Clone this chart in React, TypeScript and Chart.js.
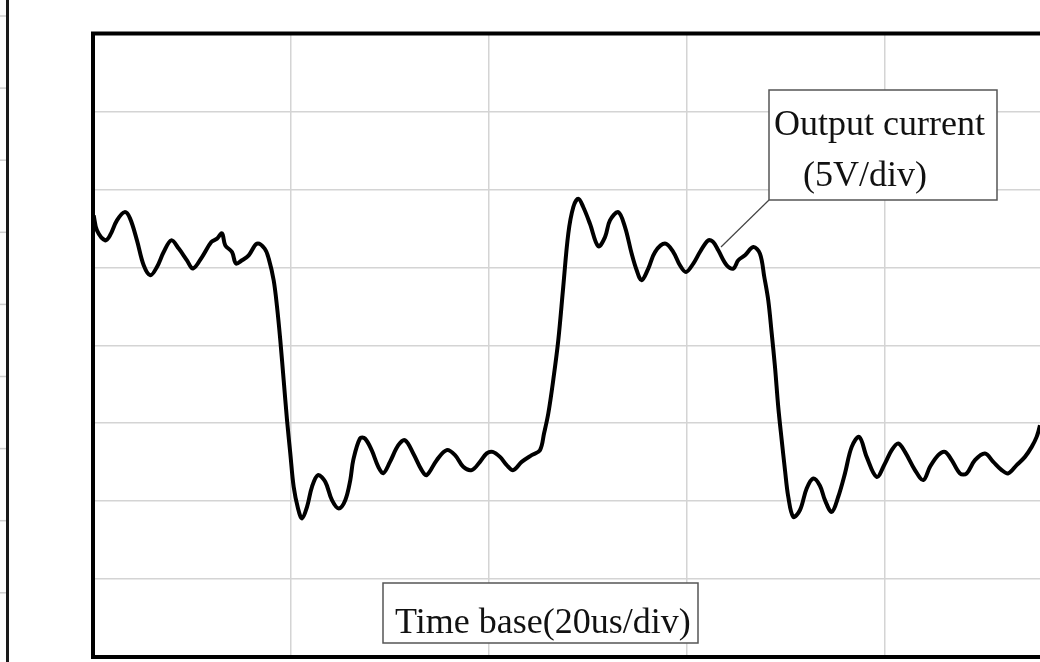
import React, { useEffect, useRef } from "react";
import { Chart, registerables } from "chart.js";

Chart.register(...registerables);

// Time in microseconds (20 us/div), output in volts (5 V/div)
const timeUs = [
  0.07, 0.4, 1.24, 1.72, 2.42, 3.2, 3.74, 4.44, 5.12, 5.79, 6.46, 7.14, 7.91, 8.66, 9.49, 10.1, 11.01, 11.95, 12.53,
  13.03, 13.36, 14.04, 14.44, 15.05, 15.73, 16.57, 17.34, 17.75, 18.25, 18.59, 18.92, 19.26, 19.6, 19.93, 20.27,
  20.71, 21.11, 21.62, 22.12, 22.73, 23.46, 24.14, 24.82, 25.48, 25.99, 26.29, 26.97, 27.47, 28.15, 28.82, 29.32,
  30.0, 30.84, 31.52, 32.35, 33.2, 33.71, 34.72, 35.73, 36.57, 37.4, 38.25, 39.09, 39.77, 40.37, 41.11, 41.79,
  42.45, 43.3, 44.31, 45.15, 45.56, 45.99, 46.49, 47.0, 47.5, 48.01, 48.52, 49.02, 49.52, 50.2, 51.04, 51.72,
  52.22, 53.06, 53.74, 54.41, 54.92, 55.42, 56.09, 56.77, 57.78, 58.62, 59.29, 59.9, 60.64, 61.31, 62.15, 62.66,
  63.16, 64.01, 64.68, 65.18, 65.86, 66.7, 67.37, 67.81, 68.21, 68.56, 68.89, 69.22, 69.57, 69.9, 70.23, 70.74,
  71.41, 72.09, 72.76, 73.43, 73.94, 74.62, 75.28, 75.96, 76.64, 77.4, 78.15, 79.16, 80.0, 80.68, 81.34, 82.02,
  83.03, 83.87, 84.55, 85.38, 86.06, 86.74, 87.58, 88.25, 89.09, 90.1, 90.94, 91.79, 92.45, 93.3, 94.14, 94.82,
  95.32, 95.66, 96.16,
];

const currentV = [
  8.33, 7.37, 6.73, 7.05, 8.01, 8.54, 8.14, 6.73, 5.13, 4.49, 5.02, 5.98, 6.73, 6.2, 5.45, 4.92, 5.66, 6.62, 6.84,
  7.18, 6.41, 5.98, 5.24, 5.45, 5.77, 6.52, 6.2, 5.56, 4.17, 2.46, 0.32, -2.24, -4.81, -6.94, -9.08,
  -10.47, -11.11, -10.37, -9.08, -8.33, -8.76, -9.94, -10.47, -9.94, -8.65, -7.37, -5.98, -5.98, -6.73, -7.8, -8.21,
  -7.48, -6.41, -6.09, -6.94, -8.01, -8.33, -7.37, -6.73, -7.05, -7.8, -8.01, -7.48, -6.94, -6.84, -7.16, -7.69,
  -8.01, -7.48, -7.05, -6.73, -5.66, -4.38, -2.24, 0.32, 3.74, 7.16, 8.87, 9.4, 8.87, 7.8, 6.35, 6.94,
  8.01, 8.54, 7.58, 5.88, 4.81, 4.17, 4.92, 5.98, 6.52, 5.98, 5.13, 4.7, 5.24, 5.98, 6.73, 6.62,
  6.09, 5.13, 4.92, 5.45, 5.77, 6.3, 5.88, 4.38, 2.88, 0.75, -1.39, -3.96, -6.09, -8.01, -9.72, -11.01,
  -10.58, -9.19, -8.55, -9.01, -9.94, -10.69, -9.72, -8.22, -6.52, -5.88, -7.16, -8.44, -7.58, -6.73, -6.3, -6.84,
  -8.01, -8.65, -7.8, -7.05, -6.84, -7.37, -8.22, -8.22, -7.37, -6.94, -7.48, -8.01, -8.22, -7.69, -7.16, -6.52,
  -5.88, -5.13, -3.53,
];

const xDivUs = 20;
const yDivV = 5;
const xMin = 0;
const xMax = 95.66;
const yMin = -20;
const yMax = 20;

const labelCurrent = ["Output current", "(5V/div)"];
const labelTime = "Time base(20us/div)";

const decorPlugin = {
  id: "decor",
  afterDatasetsDraw(chart: any) {
    const { ctx, chartArea } = chart;
    const { left, top, right, bottom } = chartArea;
    ctx.save();
    // thick frame
    ctx.strokeStyle = "#000";
    ctx.lineWidth = 4;
    ctx.beginPath();
    ctx.moveTo(right + 5, top);
    ctx.lineTo(left, top);
    ctx.lineTo(left, bottom);
    ctx.lineTo(right + 5, bottom);
    ctx.stroke();

    // left decorative edge from neighbouring figure
    ctx.strokeStyle = "#1a1a1a";
    ctx.lineWidth = 3;
    ctx.beginPath();
    ctx.moveTo(7.5, 0);
    ctx.lineTo(7.5, 662);
    ctx.stroke();
    ctx.strokeStyle = "#cfcfcf";
    ctx.lineWidth = 1.5;
    for (let k = 0; k < 10; k++) {
      const y = 16 + 72.1 * k;
      ctx.beginPath();
      ctx.moveTo(0, y);
      ctx.lineTo(6, y);
      ctx.stroke();
    }

    const font = '36px "Liberation Serif", "Times New Roman", serif';
    ctx.font = font;
    ctx.fillStyle = "#111";
    ctx.textBaseline = "alphabetic";

    // Output current box + leader
    ctx.strokeStyle = "#444";
    ctx.lineWidth = 1.2;
    ctx.beginPath();
    ctx.moveTo(769, 200);
    ctx.lineTo(721, 247);
    ctx.stroke();
    ctx.fillStyle = "#fff";
    ctx.fillRect(769, 90, 228, 110);
    ctx.strokeStyle = "#555";
    ctx.lineWidth = 1.5;
    ctx.strokeRect(769, 90, 228, 110);
    ctx.fillStyle = "#111";
    ctx.fillText(labelCurrent[0], 774, 135);
    ctx.fillText(labelCurrent[1], 803, 186);

    // Time base box
    ctx.fillStyle = "#fff";
    ctx.fillRect(383, 583, 315, 60);
    ctx.strokeStyle = "#555";
    ctx.strokeRect(383, 583, 315, 60);
    ctx.fillStyle = "#111";
    ctx.fillText(labelTime, 395, 633);
    ctx.restore();
  },
};

export default function App() {
  const ref = useRef<HTMLCanvasElement | null>(null);
  useEffect(() => {
    if (!ref.current) return;
    const gridColor = (c: any) => {
      const v = c.tick?.value;
      return v !== undefined && Math.abs(v % 20) < 1e-6 ? "#d4d4d4" : "rgba(0,0,0,0)";
    };
    const chart = new Chart(ref.current, {
      type: "line",
      data: {
        datasets: [
          {
            data: timeUs.map((t, i) => ({ x: t, y: currentV[i] })),
            borderColor: "#000",
            borderWidth: 4,
            pointRadius: 0,
            fill: false,
            tension: 0.35,
            borderJoinStyle: "round",
          },
        ],
      },
      options: {
        animation: false,
        responsive: false,
        devicePixelRatio: 1,
        layout: { padding: { left: 93, top: 33.5, right: 0, bottom: 5 } },
        plugins: { legend: { display: false }, tooltip: { enabled: false } },
        scales: {
          x: {
            type: "linear",
            min: xMin,
            max: xMax,
            ticks: { display: false, stepSize: xDivUs },
            grid: { color: gridColor, lineWidth: 1.5, drawTicks: false },
            border: { display: false },
          },
          y: {
            min: yMin,
            max: yMax,
            ticks: { display: false, stepSize: yDivV },
            grid: { color: "#d4d4d4", lineWidth: 1.5, drawTicks: false },
            border: { display: false },
          },
        },
      },
      plugins: [decorPlugin],
    });
    return () => chart.destroy();
  }, []);
  return (
    <div style={{ position: "fixed", left: 0, top: 0, width: 1040, height: 662, background: "#fff" }}>
      <canvas ref={ref} width={1040} height={662} style={{ display: "block" }} />
    </div>
  );
}
